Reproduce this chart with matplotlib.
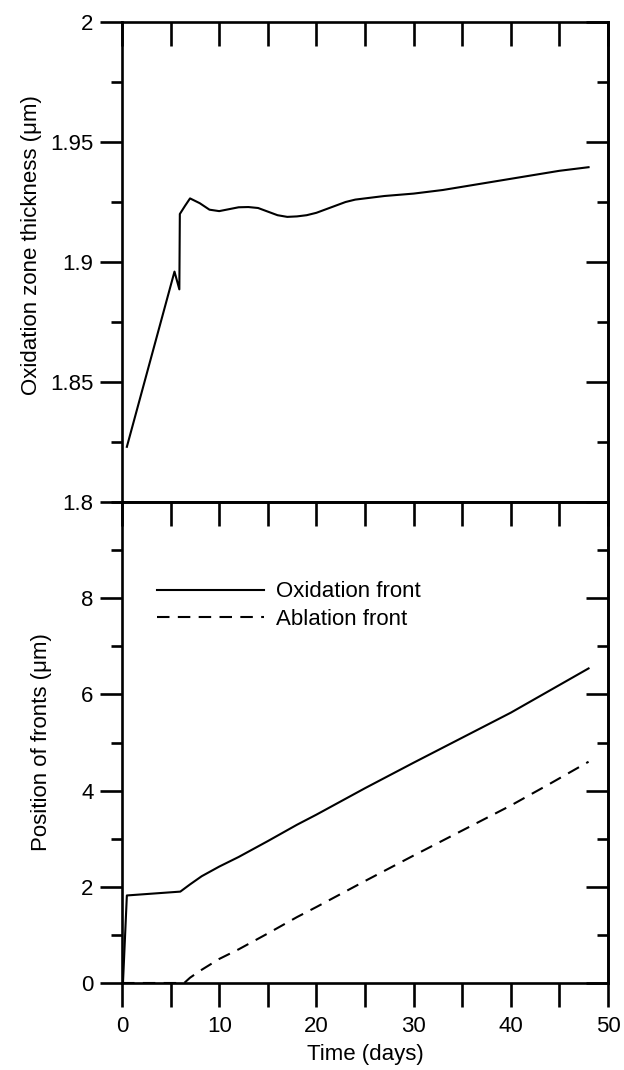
import matplotlib
matplotlib.use("Agg")
import matplotlib.pyplot as plt
from matplotlib.ticker import MultipleLocator

plt.rcParams['font.family'] = ['Liberation Sans', 'DejaVu Sans']
plt.rcParams['axes.linewidth'] = 1.9

# ---------------- data ----------------
t_thick = [0.5, 5.4, 5.9, 5.95, 6.5, 7.0, 8.0, 9.0, 10.0, 11.0, 12.0, 13.0, 14.0,
           15.0, 16.0, 17.0, 18.0, 19.0, 20.0, 21.0, 22.0, 23.0, 24.0, 25.0, 27.0,
           30.0, 33.0, 36.0, 39.0, 42.0, 45.0, 48.0]
thick = [1.823, 1.896, 1.8886, 1.920, 1.9235, 1.9265, 1.9245, 1.9218, 1.9212, 1.922,
         1.9228, 1.9229, 1.9225, 1.921, 1.9195, 1.9188, 1.919, 1.9195, 1.9205, 1.922,
         1.9235, 1.925, 1.926, 1.9265, 1.9275, 1.9285, 1.930, 1.932, 1.934, 1.936,
         1.938, 1.9395]

t_ox = [0.1, 0.5, 6.0, 7.0, 8.2, 10.0, 12.0, 15.0, 18.0, 20.0, 25.0, 30.0, 35.0, 40.0, 44.0, 48.0]
ox = [0.0, 1.82, 1.90, 2.05, 2.22, 2.42, 2.62, 2.95, 3.29, 3.50, 4.05, 4.58, 5.10, 5.62, 6.08, 6.54]

t_ab = [0.0, 6.4, 7.0, 8.0, 10.0, 12.0, 15.0, 18.0, 20.0, 25.0, 30.0, 35.0, 40.0, 44.0, 48.0]
ab = [0.0, 0.0, 0.11, 0.25, 0.50, 0.70, 1.03, 1.37, 1.58, 2.12, 2.65, 3.17, 3.69, 4.14, 4.60]

series_labels = ["Oxidation front", "Ablation front"]
xlabel = "Time (days)"
ylabel_top = "Oxidation zone thickness (μm)"
ylabel_bot = "Position of fronts (μm)"

# ---------------- figure ----------------
W, H = 624, 1070
fig = plt.figure(figsize=(W / 100, H / 100), dpi=100)
L, R = 122, 608
T1, B1 = 22, 502
T2, B2 = 502, 983
ax1 = fig.add_axes([L / W, 1 - B1 / H, (R - L) / W, (B1 - T1) / H])
ax2 = fig.add_axes([L / W, 1 - B2 / H, (R - L) / W, (B2 - T2) / H])

FS = 16
lw_data = 1.5
tw = 1.9
maj_y = 15.5
min_y = 8
len_x = 17

# top panel
ax1.plot(t_thick, thick, color='black', lw=lw_data)
ax1.set_xlim(0, 50)
ax1.set_ylim(1.8, 2.0)
ax1.yaxis.set_minor_locator(MultipleLocator(0.025))
ax1.set_yticks([1.8, 1.85, 1.9, 1.95, 2.0])
ax1.set_yticklabels(["1.8", "1.85", "1.9", "1.95", "2"])
ax1.tick_params(axis='y', which='major', direction='out', length=maj_y, width=tw,
                labelsize=FS, pad=5, left=True, right=False)
ax1.tick_params(axis='y', which='minor', direction='out', length=min_y, width=tw,
                left=True, right=False)
ax1.xaxis.set_major_locator(MultipleLocator(5))
ax1.tick_params(axis='x', which='both', direction='in', length=len_x, width=tw,
                top=True, bottom=False, labeltop=False, labelbottom=False)
ax1r = ax1.secondary_yaxis('right')
ax1r.yaxis.set_major_locator(MultipleLocator(0.05))
ax1r.yaxis.set_minor_locator(MultipleLocator(0.025))
ax1r.tick_params(axis='y', which='major', direction='in', length=maj_y, width=tw, labelright=False)
ax1r.tick_params(axis='y', which='minor', direction='in', length=min_y, width=tw)
ax1r.spines['right'].set_linewidth(1.9)
ax1.set_ylabel(ylabel_top, fontsize=FS)
ax1.yaxis.set_label_coords(-0.165, 0.535)

# bottom panel
ax2.plot(t_ox, ox, color='black', lw=lw_data, label=series_labels[0])
ax2.plot(t_ab, ab, color='black', lw=lw_data, linestyle=(0, (6, 4)), label=series_labels[1])
ax2.set_xlim(0, 50)
ax2.set_ylim(0, 10)
ax2.set_yticks([0, 2, 4, 6, 8])
ax2.yaxis.set_minor_locator(MultipleLocator(1))
ax2.tick_params(axis='y', which='major', direction='out', length=maj_y, width=tw,
                labelsize=FS, pad=5, left=True, right=False)
ax2.tick_params(axis='y', which='minor', direction='out', length=min_y, width=tw,
                left=True, right=False)
ax2.set_xticks([0, 10, 20, 30, 40, 50])
ax2.xaxis.set_minor_locator(MultipleLocator(5))
ax2.tick_params(axis='x', which='both', direction='out', length=len_x, width=tw,
                labelsize=FS, pad=7, top=False, bottom=True)
ax2r = ax2.secondary_yaxis('right')
ax2r.yaxis.set_major_locator(MultipleLocator(2))
ax2r.yaxis.set_minor_locator(MultipleLocator(1))
ax2r.tick_params(axis='y', which='major', direction='in', length=maj_y, width=tw, labelright=False)
ax2r.tick_params(axis='y', which='minor', direction='in', length=min_y, width=tw)
ax2r.spines['right'].set_linewidth(1.9)
ax2t = ax2.secondary_xaxis('top')
ax2t.xaxis.set_major_locator(MultipleLocator(5))
ax2t.tick_params(axis='x', which='both', direction='in', length=len_x, width=tw, labeltop=False)
ax2t.spines['top'].set_linewidth(1.9)
ax2.set_xlabel(xlabel, fontsize=FS, labelpad=5)
ax2.set_ylabel(ylabel_bot, fontsize=FS)
ax2.yaxis.set_label_coords(-0.145, 0.5)

ax2.legend(frameon=False, fontsize=FS, loc='upper left', bbox_to_anchor=(0.072, 0.835),
           borderaxespad=0, borderpad=0, handlelength=4.8, handletextpad=0.55,
           labelspacing=0.3)

fig.savefig("out.png", dpi=100)
